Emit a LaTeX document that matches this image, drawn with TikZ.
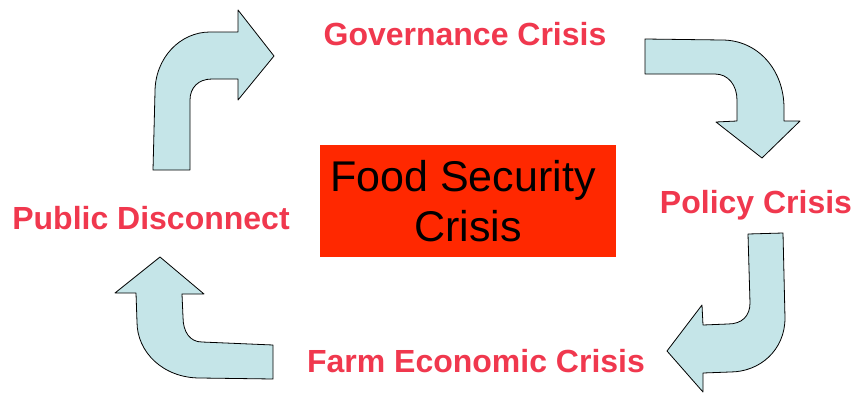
\documentclass[tikz,border=0pt]{standalone}
\usepackage{fontspec}
\setmainfont{Liberation Sans}
\usetikzlibrary{positioning}
\definecolor{crisisred}{RGB}{240,56,78}
\definecolor{corered}{RGB}{255,40,0}
\definecolor{arrowblue}{RGB}{197,229,232}
\tikzset{
    bentarrow/.style = {draw=black,line width=0.8pt,line join=round,fill=arrowblue},
    crisis/.style = {anchor=base,text=crisisred,font=\fontsize{32}{38}\selectfont\bfseries},
    core/.style = {rectangle,fill=corered,inner sep=0pt,minimum width=296pt,minimum height=112pt,align=center,font=\fontsize{43}{50}\selectfont}
}
\begin{document}
\begin{tikzpicture}[x=1pt,y=-1pt]
\useasboundingbox (0,0) rectangle (857,394);
\node[core] at (468,201) (food) {Food Security\hspace*{10pt}\\Crisis};
\node[crisis] at (465,45) (gov) {Governance Crisis};
\node[crisis] at (756,213.3) (pol) {Policy Crisis};
\node[crisis] at (476,372.7) (farm) {Farm Economic Crisis};
\node[crisis] at (151,229.3) (pub) {Public Disconnect};
%
\draw[bentarrow] (153,170) -- (155,92) .. controls (155,58) and (180,32) .. (210,32)
  -- (238,32) -- (238,10) -- (274,56) -- (238,100) -- (238,79) -- (212,79)
  .. controls (198,79) and (190,88) .. (190,100) -- (190,170) -- cycle;
\draw[bentarrow] (645,39) -- (722,40) .. controls (758,40) and (784,70) .. (784,108)
  -- (784,121) -- (800,121) -- (762,158) -- (716,122) -- (737,121) -- (737,100)
  .. controls (737,85) and (728,74) .. (715,74) -- (645,74) -- cycle;
\draw[bentarrow] (748,234) -- (783,233) -- (785,318) .. controls (785,350) and (760,372) .. (730,372)
  -- (703,373) -- (703,392) -- (667,351) -- (702,305) -- (703,325) -- (728,324)
  .. controls (742,324) and (750,316) .. (750,303) -- cycle;
\draw[bentarrow] (160,257) -- (204,294) -- (182,294) -- (183,317)
  .. controls (183,332) and (190,342) .. (202,342) -- (273,345) -- (273,379) -- (200,378)
  .. controls (163,378) and (137,352) .. (137,322) -- (136,293) -- (115,293) -- cycle;

\end{tikzpicture}
\end{document}
